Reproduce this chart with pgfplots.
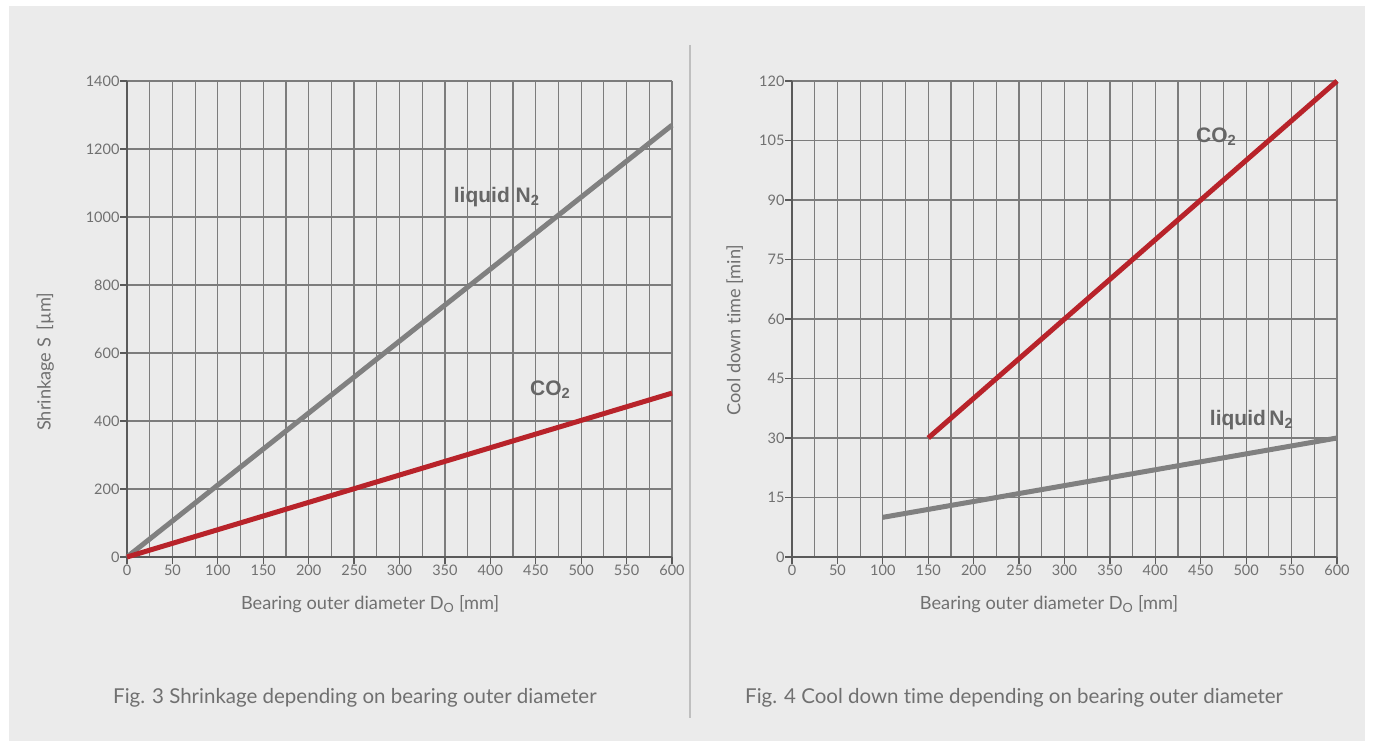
\documentclass[border=0pt]{standalone}
\usepackage{fontspec}
\setmainfont{Lato}[Ligatures=NoCommon]
\newfontfamily\labfont{Liberation Sans}
\usepackage{pgfplots}
\pgfplotsset{compat=1.18}

\definecolor{bg}{HTML}{EBEBEB}
\definecolor{txt}{HTML}{707070}
\definecolor{gridc}{HTML}{7C7C7C}
\definecolor{axisc}{HTML}{5A5A5A}
\definecolor{ngray}{HTML}{808080}
\definecolor{cored}{HTML}{B8232A}
\definecolor{lab}{HTML}{666666}

\tikzset{nlab/.style={font=\labfont\bfseries\fontsize{21}{24}\selectfont, text=lab, anchor=center}}

\pgfplotsset{
  chart/.style={
    scale only axis, width=545pt, height=476pt,
    anchor=south west,
    xmin=0, xmax=600,
    xtick={0,50,...,600},
    minor xtick={25,75,...,575},
    grid=both,
    major grid style={color=gridc, line width=1.2pt},
    minor grid style={color=gridc, line width=1.2pt},
    axis lines=left,
    axis line style={-, color=axisc, line width=2.6pt},
    tick align=outside,
    major tick length=7pt,
    minor tick length=0pt,
    tick style={color=axisc, line width=1.2pt},
    ticklabel style={font=\fontsize{14.5}{16}\selectfont, text=txt},
    xticklabel style={yshift=3pt},
    yticklabel style={xshift=3pt},
    /pgf/number format/1000 sep={},
    /pgf/number format/assume math mode=true,
    label style={font=\fontsize{18.2}{21}\selectfont, text=txt},
    clip=false,
  },
}

\begin{document}
\begin{tikzpicture}[x=1pt,y=1pt]
\fill[white] (0,0) rectangle (1373,747);
\fill[bg] (9,6) rectangle (1365,741);
\draw[color=gray!50, line width=2.5pt] (690,747-45) -- (690,747-718);

% Fig. 3
\begin{axis}[chart, at={(127pt,190pt)},
  ymin=0, ymax=1400, ytick={0,200,...,1400},
  xlabel={Bearing outer diameter D\textsubscript{O} [mm]},
  ylabel={Shrinkage S\, [µm]},
  xlabel style={at={(axis description cs:0.446,-0.099)}, anchor=center},
  ylabel style={at={(axis description cs:-0.150,0.41)}, anchor=center},
]
\addplot[color=ngray, line width=5pt] coordinates {(0,0) (600,1270)};
\addplot[color=cored, line width=5pt] coordinates {(0,0) (600,482)};
\node[nlab] at (axis cs:407,1060) {liquid N\textsubscript{2}};
\node[nlab] at (axis cs:466,492) {CO\textsubscript{2}};
\end{axis}

% Fig. 4
\begin{axis}[chart, at={(792pt,190pt)},
  ymin=0, ymax=120, ytick={0,15,...,120},
  xlabel={Bearing outer diameter D\textsubscript{O} [mm]},
  ylabel={Cool down time [min]},
  xlabel style={at={(axis description cs:0.4716,-0.099)}, anchor=center},
  ylabel style={at={(axis description cs:-0.105,0.477)}, anchor=center},
]
\addplot[color=cored, line width=5pt] coordinates {(150,30) (600,120)};
\addplot[color=ngray, line width=5pt] coordinates {(100,10) (600,30)};
\node[nlab] at (axis cs:467,106) {CO\textsubscript{2}};
\node[nlab] at (axis cs:506,34.5) {liquid\,N\textsubscript{2}};
\end{axis}

\node[anchor=west, inner sep=0pt, text=txt, font=\fontsize{20.5}{24}\selectfont] at (113,747-698) {Fig. 3 Shrinkage depending on bearing outer diameter};
\node[anchor=west, inner sep=0pt, text=txt, font=\fontsize{20.5}{24}\selectfont] at (745,747-698) {Fig. 4 Cool down time depending on bearing outer diameter};
\end{tikzpicture}
\end{document}
